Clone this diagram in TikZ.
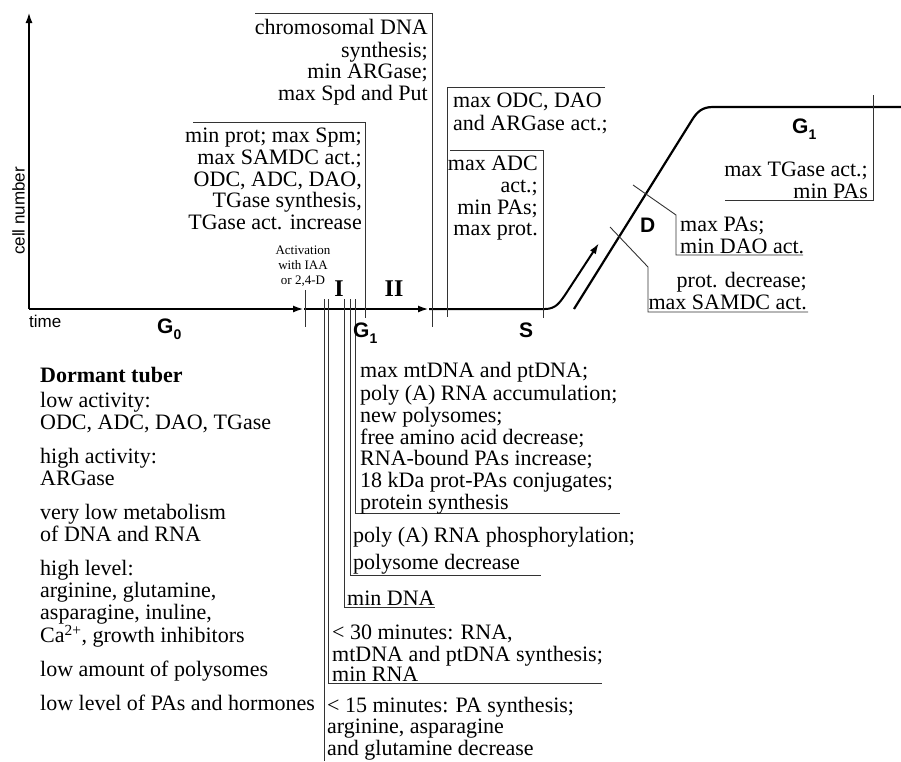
\documentclass[tikz,border=0pt]{standalone}
\usepackage{fontspec}
\setmainfont{Liberation Serif}
\setsansfont{Liberation Sans}
\usetikzlibrary{arrows.meta}
\newcommand{\phasesub}[1]{\raisebox{-6pt}{\fontsize{14}{14}\selectfont #1}}

\begin{document}
\begin{tikzpicture}[x=1pt, y=-1pt,
  axisline/.style={line width=2.2pt, -{Latex[length=11pt,width=7pt]}},
  growth/.style={line width=2.2pt, line join=round},
  bracket/.style={line width=0.9pt, black!80},
  notel/.style={font=\fontsize{22}{21.7}\selectfont, inner sep=0pt, align=left, anchor=north west},
  noter/.style={font=\fontsize{22}{21.7}\selectfont, inner sep=0pt, align=right, anchor=north east},
  phase/.style={font=\fontsize{21}{21}\selectfont\sffamily\bfseries, inner sep=0pt, anchor=base west},
  stage/.style={font=\fontsize{24}{24}\selectfont\bfseries, inner sep=0pt}]
  \useasboundingbox (0,0) rectangle (901,761);
  % axes and growth curve
  \draw[axisline] (29,309) -- (29,12);
  \draw[axisline] (29,309) -- (304,309);
  \draw[axisline] (304,309) -- (429,309);
  \draw[axisline, line width=2pt] (429,309) -- (545,309) .. controls (556,309) and (560,302) .. (565,295) -- (599,243);
  \draw[growth] (574,309) -- (692,120) .. controls (697,112) and (702,107) .. (713,107) -- (901,107);
  \node[font=\fontsize{17}{17}\selectfont\sffamily, rotate=90, inner sep=0pt] (ylab) at (18.5,211) {cell number};
  \node[font=\fontsize{17}{17}\selectfont\sffamily, inner sep=0pt, anchor=base west] (xlab) at (29,327) {time};

  % brackets above the axis
  \draw[bracket] (305,290) -- (305,327);
  \draw[bracket] (255,13) -- (432,13) -- (432,327);
  \draw[bracket] (193,122) -- (365,122) -- (365,318);
  \draw[bracket] (605,87) -- (447,87) -- (447,317);
  \draw[bracket] (450,150) -- (543,150) -- (543,318);
  \draw[bracket] (873,95) -- (873,200) -- (725,200);
  \draw[bracket] (633,185) -- (676,215) -- (676,255) -- (803,255);
  \draw[bracket] (610,227) -- (648,267) -- (648,312) -- (808,312);
  % brackets below the axis
  \draw[bracket] (355,299) -- (355,513) -- (620,513);
  \draw[bracket] (350,299) -- (350,575) -- (541,575);
  \draw[bracket] (344,299) -- (344,607) -- (435,607);
  \draw[bracket] (328,299) -- (328,683.5) -- (602,683.5);
  \draw[bracket] (324,299) -- (324,761);

  % phases
  \node[phase] (g0) at (157,333) {G\phasesub{0}};
  \node[phase] (g1a) at (353,337) {G\phasesub{1}};
  \node[phase] (s) at (519,337) {S};
  \node[phase] (d) at (640,232) {D};
  \node[phase] (g1b) at (792,133) {G\phasesub{1}};
  \node[stage] (st1) at (339,289) {I};
  \node[stage] (st2) at (394,289) {II};
  \node[font=\fontsize{13}{15}\selectfont, inner sep=0pt, align=center] (act) at (303,266)
    {Activation\\with IAA\\or 2,4-D};

  % notes above the axis
  \node[noter] (chromo) at (428,18.8) {\strut chromosomal DNA\\synthesis;\\min ARGase;\\max Spd and Put};
  \node[noter] (minprot) at (362,127.4) {\strut min prot; max Spm;\\max SAMDC act.;\\ODC, ADC, DAO,\\TGase synthesis,\\TGase act. increase};
  \node[notel] (maxodc) at (453,92.4) {\strut max ODC, DAO\\and ARGase act.;};
  \node[noter] (maxadc) at (538,155.4) {\strut max ADC\\act.;\\min PAs;\\max prot.};
  \node[noter] (tgase) at (868,161.4) {\strut max TGase act.;\\min PAs};
  \node[notel] (maxpas) at (680,216.5) {\strut max PAs;\\min DAO act.};
  \node[noter] (protdec) at (807,272.4) {\strut prot. decrease;\\max SAMDC act.};

  % notes below the axis
  \node[notel] (mtdna) at (360,362.4) {\strut max mtDNA and ptDNA;\\poly (A) RNA accumulation;\\new polysomes;\\free amino acid decrease;\\RNA-bound PAs increase;\\18 kDa prot-PAs conjugates;\\protein synthesis};
  \node[notel] (polya) at (353,526.8) {\strut poly (A) RNA phosphorylation;\\[4.3pt]polysome decrease};
  \node[notel] (mindna) at (347,589.8) {\strut min DNA};
  \node[notel] (min30) at (332,623.8) {\strut < 30 minutes: RNA,\\[-0.9pt]mtDNA and ptDNA synthesis;\\[-0.9pt]min RNA};
  \node[notel] (min15) at (327,696.8) {\strut < 15 minutes: PA synthesis;\\arginine, asparagine\\and glutamine decrease};

  % dormant tuber
  \node[font=\fontsize{22}{22}\selectfont, inner sep=0pt, align=left, anchor=north west] (dormant) at (40,366.6)
    {\strut\textbf{Dormant tuber}\\[3pt]
     low activity:\\ODC, ADC, DAO, TGase\\[12pt]
     high activity:\\ARGase\\[12pt]
     very low metabolism\\of DNA and RNA\\[12pt]
     high level:\\arginine, glutamine,\\asparagine, inuline,\\Ca\textsuperscript{2+}, growth inhibitors\\[12pt]
     low amount of polysomes\\[12pt]
     low level of PAs and hormones};
\end{tikzpicture}
\end{document}
